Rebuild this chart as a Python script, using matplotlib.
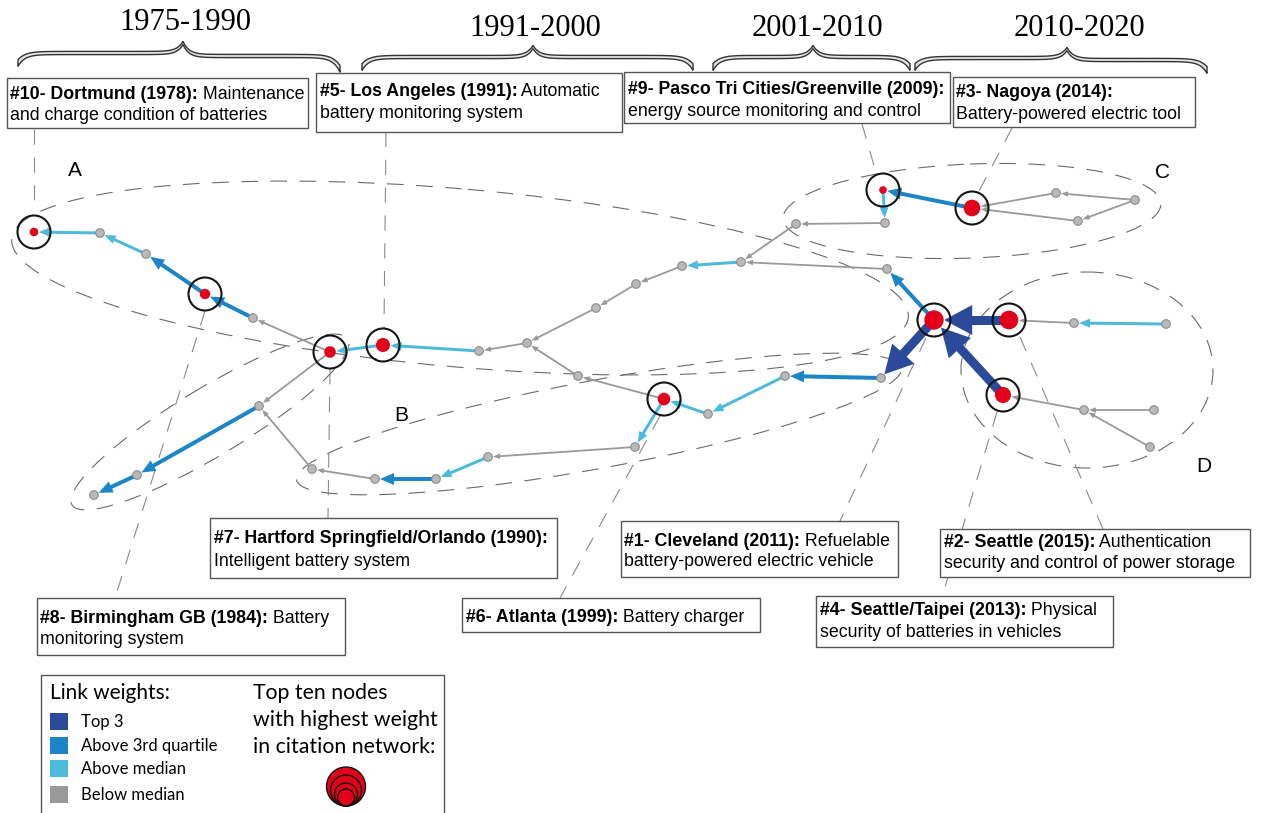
import numpy as np
import matplotlib
matplotlib.use("Agg")
import matplotlib.pyplot as plt
from matplotlib.patches import Circle, Ellipse, Polygon, Rectangle

plt.rcParams['lines.scale_dashes'] = False

# ---------------- data ----------------
# top-ten nodes (rank = weight rank in the citation network)
top_rank = [1, 2, 3, 4, 5, 6, 7, 8, 9, 10]
top_id = ["Cleveland", "Seattle", "Nagoya", "SeattleTaipei", "LosAngeles",
          "Atlanta", "Hartford", "Birmingham", "Pasco", "Dortmund"]
top_x = [934, 1009, 972, 1003, 383, 664, 330, 205, 883, 34]
top_y = [320, 320, 208, 395, 345, 399, 352, 294, 190, 232]
top_size = [9.7, 9.3, 8.3, 8.0, 7.0, 6.3, 5.8, 5.2, 3.8, 4.3]

# remaining nodes of the citation network
other_id = ["g%d" % i for i in range(1, 33)]
other_x = [100, 146, 253, 479, 527, 596, 636, 682, 741, 796, 885, 887, 1056, 1135,
           1078, 1074, 1166, 1084, 1154, 1150, 881, 785, 708, 578, 635, 488, 436,
           375, 312, 259, 137, 94]
other_y = [233, 254, 318, 351, 343, 308, 284, 266, 262, 224, 223, 269, 193, 200,
           221, 323, 324, 410, 410, 447, 378, 376, 414, 376, 447, 457, 479, 479,
           469, 406, 475, 495]

# citation links (arrow points at target)
edge_src = ["g1", "g2", "Birmingham", "g3", "Hartford", "LosAngeles", "g4", "g5", "g6",
            "g7", "g8", "g9", "g10", "g12", "g11", "Pasco", "Nagoya", "g13", "g15", "g14",
            "g14", "Cleveland", "Seattle", "SeattleTaipei", "Cleveland", "g16", "g17", "g18",
            "g19", "g20", "g21", "g22", "g23", "Atlanta", "g24", "Atlanta", "g25", "g26",
            "g27", "g28", "g29", "Hartford", "g30", "g31"]
edge_dst = ["Dortmund", "g1", "g2", "Birmingham", "g3", "Hartford", "LosAngeles", "g4", "g5",
            "g6", "g7", "g8", "g9", "g9", "g10", "g11", "Pasco", "Nagoya", "Nagoya", "g13",
            "g15", "g12", "Cleveland", "Cleveland", "g21", "Seattle", "g16", "SeattleTaipei",
            "g18", "g18", "g22", "g23", "Atlanta", "g24", "g5", "g25", "g26", "g27",
            "g28", "g29", "g30", "g30", "g31", "g32"]
edge_cat = [2, 2, 1, 1, 3, 2, 2, 3, 3,
            3, 3, 2, 3, 3, 3, 2, 1, 3, 3, 3,
            3, 1, 0, 0, 0, 3, 2, 3,
            3, 3, 1, 2, 2, 3, 3, 2, 3, 2,
            1, 3, 3, 3, 1, 1]

cat_labels = ["Top 3", "Above 3rd quartile", "Above median", "Below median"]
cat_colors = ["#2B4A9A", "#1B85C8", "#4CBADB", "#999999"]

periods = ["1975-1990", "1991-2000", "2001-2010", "2010-2020"]
cluster_labels = ["A", "B", "C", "D"]

box_bold = ["#10- Dortmund (1978):", "#5- Los Angeles (1991):",
            "#9- Pasco Tri Cities/Greenville (2009):", "#3- Nagoya (2014):",
            "#7- Hartford Springfield/Orlando (1990):", "#8- Birmingham GB (1984):",
            "#6- Atlanta (1999):", "#1- Cleveland (2011):", "#2- Seattle (2015):",
            "#4- Seattle/Taipei (2013):"]
box_rest = [" Maintenance", " Automatic", "", "", "", " Battery", " Battery charger",
            " Refuelable", " Authentication", " Physical"]
box_line2 = ["and charge condition of batteries", "battery monitoring system",
             "energy source monitoring and control", "Battery-powered electric tool",
             "Intelligent battery system", "monitoring system", "",
             "battery-powered electric vehicle", "security and control of power storage",
             "security of batteries in vehicles"]

# ---------------- figure ----------------
W, H = 1262, 813
PT = 0.72  # points per pixel at dpi 100
fig = plt.figure(figsize=(W / 100, H / 100), dpi=100)
ax = fig.add_axes([0, 0, 1, 1])
ax.set_xlim(0, W)
ax.set_ylim(H, 0)
ax.axis("off")

SANS = ["Liberation Sans", "DejaVu Sans"]

pos = {}
rad = {}
for i, n in enumerate(top_id):
    pos[n] = (top_x[i], top_y[i])
    rad[n] = top_size[i]
for i, n in enumerate(other_id):
    pos[n] = (other_x[i], other_y[i])
    rad[n] = 4.5

# ---- cluster ellipses ----
ell_spec = [((460, 278), 900, 178, 5), ((599, 424), 615, 88, -10.5),
            ((210, 422), 322, 68, -31), ((972, 211), 378, 94, -2.3),
            ((1087, 370), 252, 196, 0)]
for c, w, h, a in ell_spec:
    ax.add_patch(Ellipse(c, w, h, angle=a, fill=False, ec="#6a6a6a", lw=0.8,
                         ls=(0, (12, 9)), zorder=1))
for lab, (lx, ly) in zip(cluster_labels, [(75, 171), (401, 415), (1163, 173), (1204, 466)]):
    ax.text(lx, ly, lab, fontsize=15, family=SANS, ha="center", va="center", zorder=2)

# ---- leader lines ----
leaders = [((34, 129), (34, 208)), ((386, 132), (384, 329)), ((862, 124), (877, 176)),
           ((1012, 128), (978, 193)), ((330, 369), (328, 518)), ((205, 311), (115, 598)),
           ((660, 416), (560, 598)), ((926, 338), (840, 521)), ((997, 412), (942, 597)),
           ((1020, 337), (1103, 529))]
for (a, b) in leaders:
    ax.plot([a[0], b[0]], [a[1], b[1]], color="#8a8a8a", lw=0.8, ls=(0, (11, 9)), zorder=1)

# ---- edges ----
head_len = [28, 14, 11, 7]
head_wid = [30, 12, 9, 5.5]
line_w = [9, 4, 3, 1.8]
for s, d, c in zip(edge_src, edge_dst, edge_cat):
    x0, y0 = pos[s]
    x1, y1 = pos[d]
    L = np.hypot(x1 - x0, y1 - y0)
    ux, uy = (x1 - x0) / L, (y1 - y0) / L
    tx, ty = x1 - ux * (rad[d] + 0.5), y1 - uy * (rad[d] + 0.5)
    bx, by = tx - ux * head_len[c], ty - uy * head_len[c]
    ax.plot([x0, bx + ux], [y0, by + uy], color=cat_colors[c], lw=line_w[c] * PT,
            solid_capstyle="butt", zorder=3)
    px, py = -uy, ux
    hw = head_wid[c] / 2
    ax.add_patch(Polygon([(tx, ty), (bx + px * hw, by + py * hw), (bx - px * hw, by - py * hw)],
                         closed=True, fc=cat_colors[c], ec="none", zorder=3))

# ---- nodes ----
for n in other_id:
    ax.add_patch(Circle(pos[n], 4.3, fc="#B9B9B9", ec="#8C8C8C", lw=0.8, zorder=4))
for n in top_id:
    ax.add_patch(Circle(pos[n], rad[n], fc="#E2001A", ec="none", zorder=5))
    ax.add_patch(Circle(pos[n], 16.5, fill=False, ec="#151515", lw=1.5, zorder=6))

# ---- period braces ----
def brace(xl, xm, xr, yl, ytip, yr, band_l, band_r):
    def half(xa, xb, yend, band):
        t = np.linspace(0, 1, 200)
        D = abs(xb - xa)
        x = xa + (xb - xa) * t
        y = band + (yend - band) * np.exp(-t * D / 7.0) + (ytip - band) * np.exp(-(1 - t) * D / 6.0)
        th = 3.2 + 3.5 * np.exp(-t * D / 5.0)
        return x, y, th
    xL, yL, tL = half(xl, xm, yl, band_l)
    xR, yR, tR = half(xr, xm, yr, band_r)
    x = np.concatenate([xL, xR[::-1]])
    y = np.concatenate([yL, yR[::-1]])
    th = np.concatenate([tL, tR[::-1]])
    poly = np.vstack([np.column_stack([x, y - th / 2]), np.column_stack([x, y + th / 2])[::-1]])
    ax.add_patch(Polygon(poly, closed=True, fc="#e4e4e4", ec="#333333", lw=1.0, zorder=3))

brace_spec = [(18, 183, 340, 63, 43, 69, 53, 56), (362, 533, 693, 67, 47, 67, 57, 57),
              (713, 813, 910, 67, 47, 67, 57, 57), (915, 1067, 1207, 67, 49, 70, 58, 60)]
for b in brace_spec:
    brace(*b)
for p, (px_, py_) in zip(periods, [(185, 23), (535, 28), (817, 28), (1079, 28)]):
    ax.text(px_, py_, p, fontsize=22, family=["Liberation Serif", "DejaVu Serif"],
            ha="center", va="center", zorder=4)

# ---- annotation boxes ----
box_rect = [(7, 78, 308, 128), (316, 73, 622, 132), (624, 72, 950, 123), (953, 77, 1195, 127),
            (210, 518, 557, 578), (37, 598, 345, 655), (462, 598, 760, 632),
            (621, 521, 898, 577), (940, 529, 1250, 577), (816, 596, 1113, 647)]
box_lines = [(93, 114), (90, 112), (88, 110), (91, 113), (537, 560), (617, 638), (616, None),
             (540, 560), (541, 562), (609, 631)]
FS = 12.8
renderer = fig.canvas.get_renderer()
for i in range(len(box_bold)):
    x0, y0, x1, y1 = box_rect[i]
    ax.add_patch(Rectangle((x0, y0), x1 - x0, y1 - y0, fc="white", ec="#555555", lw=1.0, zorder=7))
    ya, yb = box_lines[i]
    tb = ax.text(x0 + 3.5, ya + 6, box_bold[i], fontsize=FS, fontweight="bold", family=SANS,
                 va="baseline", ha="left", zorder=8)
    if box_rest[i]:
        wpx = tb.get_window_extent(renderer).width
        ax.text(x0 + 3.5 + wpx, ya + 6, box_rest[i], fontsize=FS, family=SANS,
                va="baseline", ha="left", zorder=8)
    if yb is not None:
        ax.text(x0 + 3.5, yb + 6, box_line2[i], fontsize=FS, family=SANS,
                va="baseline", ha="left", zorder=8)

# ---- legend ----
LEG = ["Lato", "DejaVu Sans"]
ax.add_patch(Rectangle((41, 675), 403, 160, fc="white", ec="#555555", lw=1.0, zorder=7))
ax.text(50, 693, "Link weights:", fontsize=15, family=LEG, va="center", ha="left", zorder=8)
for k, (lab, col, yy) in enumerate(zip(cat_labels, cat_colors, [721, 745, 768, 794])):
    ax.add_patch(Rectangle((50, yy - 8.5), 18, 17, fc=col, ec="none", zorder=8))
    ax.text(81, yy + 1, lab, fontsize=12, family=LEG, va="center", ha="left", zorder=8)
for t, yy in zip(["Top ten nodes", "with highest weight", "in citation network:"], [693, 720, 747]):
    ax.text(253, yy, t, fontsize=15.3, family=LEG, va="center", ha="left", zorder=8)
for r in [19.5, 15.5, 11.5, 8.5]:
    ax.add_patch(Circle((346, 806 - r), r, fc="#E2001A", ec="#111111", lw=1.0, zorder=8))

fig.savefig("out.png", dpi=100)
